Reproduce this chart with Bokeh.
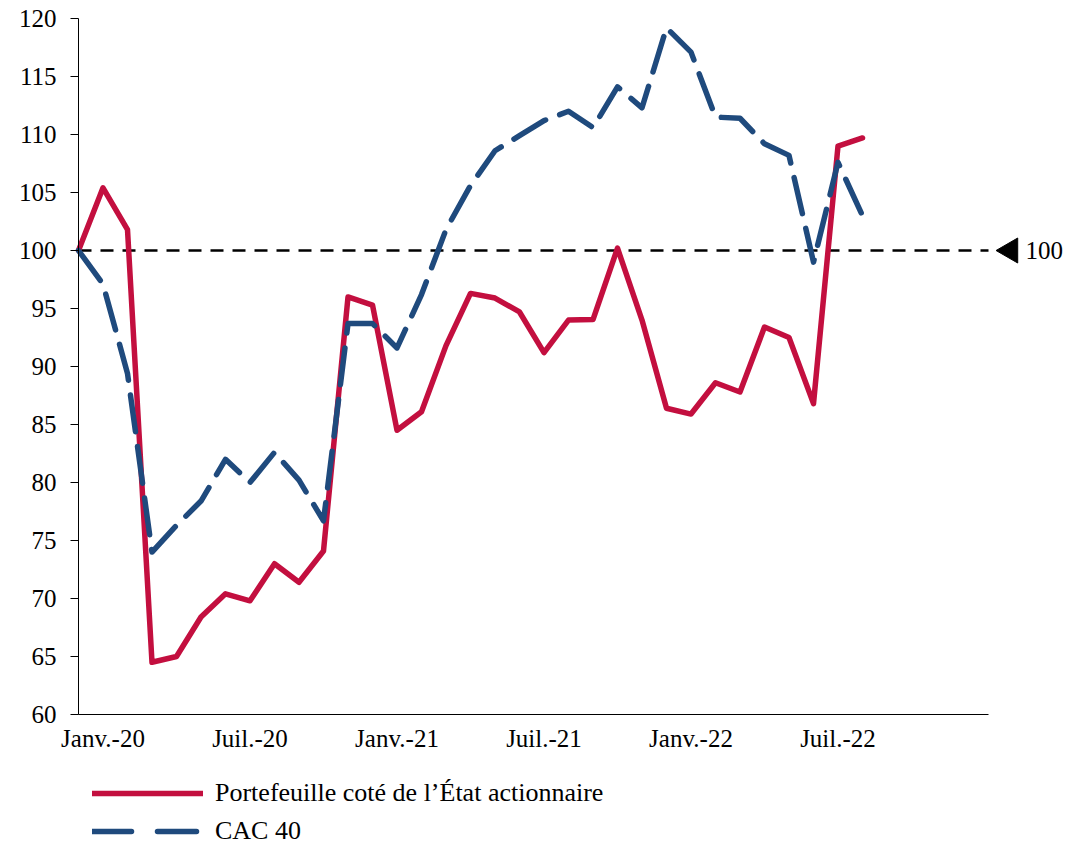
import math
import pandas as pd
from bokeh.plotting import figure
from bokeh.models import FixedTicker, Legend, LegendItem, Range1d
from bokeh.embed import file_html
from bokeh.resources import INLINE
from bokeh.core.properties import value

# ---------------- data ----------------
months = [d.strftime("%Y-%m") for d in pd.date_range("2019-12-01", "2022-08-01", freq="MS")]

portefeuille = [100.0, 105.4, 101.8, 64.5, 65.0, 68.4, 70.4, 69.8, 73.0, 71.4, 74.1,
                96.0, 95.3, 84.5, 86.1, 91.8, 96.3, 95.9, 94.7, 91.2, 94.0, 94.05,
                100.2, 94.0, 86.4, 85.9, 88.6, 87.8, 93.4, 92.5, 86.8, 109.0, 109.7]

cac40 = [100.0, 97.1, 89.4, 74.0, 76.3, 78.4, 82.0, 80.0, 82.6, 80.2, 76.7,
         93.7, 93.7, 91.6, 96.2, 101.8, 105.6, 108.6, 109.9, 111.2, 112.0, 110.6,
         114.1, 112.3, 119.2, 117.1, 111.5, 111.4, 109.2, 108.2, 99.0, 107.6, 103.0]

tick_months = ["2020-01", "2020-07", "2021-01", "2021-07", "2022-01", "2022-07"]
tick_labels = ["Janv.-20", "Juil.-20", "Janv.-21", "Juil.-21", "Janv.-22", "Juil.-22"]
y_ticks = list(range(60, 121, 5))
y_min, y_max = 60, 120

series_names = ["Portefeuille coté de l\u2019État actionnaire", "CAC 40"]
ref_value = 100
ref_label = "100"

# ---------------- styling ----------------
FONT = "Liberation Serif"
RED = "#C30F3F"
BLUE = "#1F4A7D"

x = list(range(len(months)))
tick_pos = [months.index(m) for m in tick_months]

PX_PER_MONTH = 24.5
PX_PER_UNIT = 11.6
LEFT, TOP = 78, 18            # where the axes meet / top of the y axis (px)
FRAME_W, FRAME_H = 1076, 860
axis_end = 910 / PX_PER_MONTH

x_start = -LEFT / PX_PER_MONTH
x_end = (FRAME_W - LEFT) / PX_PER_MONTH
y_top = y_max + TOP / PX_PER_UNIT
y_bottom = y_max - (FRAME_H - TOP) / PX_PER_UNIT

p = figure(frame_width=FRAME_W, frame_height=FRAME_H,
           x_range=Range1d(x_start, x_end), y_range=Range1d(y_bottom, y_top),
           output_backend="svg", toolbar_location=None,
           min_border_left=0, min_border_right=0, min_border_top=0,
           min_border_bottom=0)
p.outline_line_color = None
p.grid.visible = False
p.background_fill_color = "white"
p.border_fill_color = "white"

# axes (placed inside the frame so nothing is clipped)
p.xaxis.fixed_location = y_min
p.xaxis.ticker = FixedTicker(ticks=tick_pos)
p.xaxis.major_label_overrides = {pos: lab for pos, lab in zip(tick_pos, tick_labels)}
p.xaxis.bounds = (0, axis_end)
p.xaxis.major_tick_out = 0
p.xaxis.major_tick_in = 0
p.xaxis.minor_tick_out = 0
p.xaxis.minor_tick_in = 0
p.xaxis.major_label_standoff = 10

p.yaxis.fixed_location = 0
p.yaxis.ticker = FixedTicker(ticks=y_ticks)
p.yaxis.bounds = (y_min, y_max)
p.yaxis.major_tick_out = 8
p.yaxis.major_tick_in = 0
p.yaxis.minor_tick_out = 0
p.yaxis.minor_tick_in = 0
p.yaxis.major_label_standoff = 14

for ax in (p.xaxis, p.yaxis):
    ax.axis_line_color = "black"
    ax.axis_line_width = 1
    ax.major_tick_line_color = "black"
    ax.major_label_text_font = FONT
    ax.major_label_text_font_size = "25px"
    ax.major_label_text_color = "black"

# reference line at 100
p.line(x=[0, axis_end], y=[ref_value, ref_value], line_color="black",
       line_width=2.5, line_dash="13 9")
p.scatter(x=[axis_end + 22 / PX_PER_MONTH], y=[ref_value], marker="triangle",
          size=25, angle=math.pi / 2, fill_color="black", line_color="black")
p.text(x=[axis_end + 37 / PX_PER_MONTH], y=[ref_value], text=[ref_label],
       text_font=value(FONT), text_font_size="25px", text_baseline="middle",
       text_align="left", text_color="black")

# series
r_red = p.line(x=x, y=portefeuille, line_color=RED, line_width=5.5,
               line_join="round", line_cap="round")
r_blue = p.line(x=x, y=cac40, line_color=BLUE, line_width=5.5,
                line_join="round", line_cap="round", line_dash="37 15")

# legend swatches (same styles; the CAC 40 swatch uses the legend's longer dash)
nan = float("nan")
sw_red = p.line(x=[nan], y=[nan], line_color=RED, line_width=5.5, line_cap="round")
sw_blue = p.line(x=[nan], y=[nan], line_color=BLUE, line_width=5.5, line_cap="round",
                 line_dash="39 26")

legend = Legend(items=[LegendItem(label=series_names[0], renderers=[sw_red]),
                       LegendItem(label=series_names[1], renderers=[sw_blue])],
                location=(92, 14), orientation="vertical")
legend.label_text_font = FONT
legend.label_text_font_size = "26px"
legend.label_text_color = "black"
legend.glyph_width = 111
legend.glyph_height = 30
legend.label_height = 30
legend.label_standoff = 12
legend.spacing = 8
legend.margin = 0
legend.padding = 0
legend.border_line_alpha = 0
legend.background_fill_alpha = 0
p.add_layout(legend)

open("out.html", "w").write(file_html(p, INLINE))
